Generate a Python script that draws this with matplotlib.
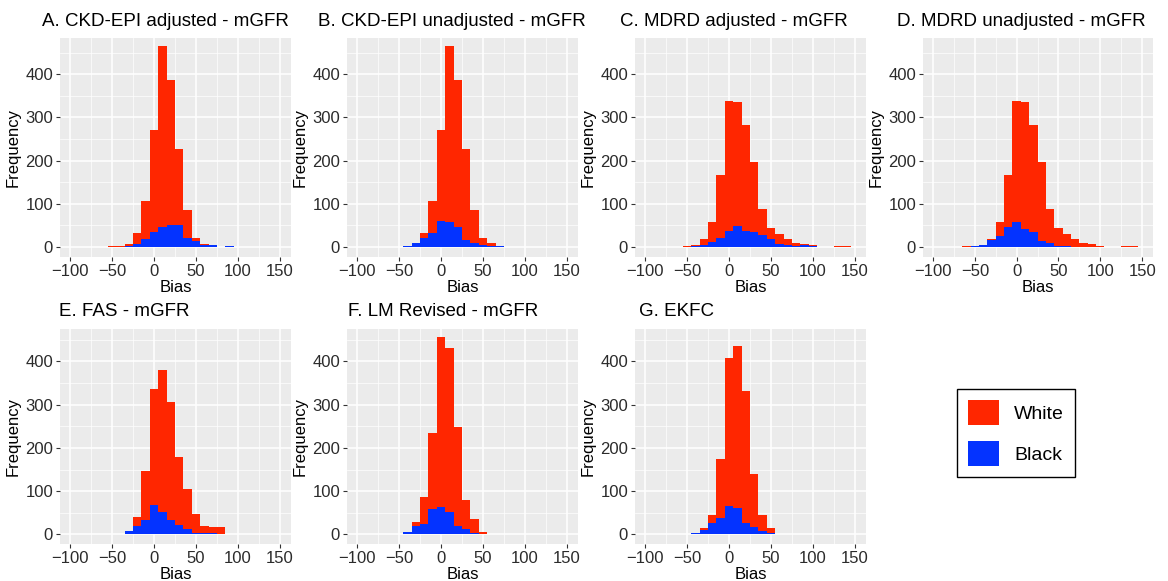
import numpy as np
import matplotlib
matplotlib.use("Agg")
import matplotlib.pyplot as plt
from matplotlib.patches import Patch

plt.rcParams['font.family'] = ['Liberation Sans', 'DejaVu Sans']

# bin centres (binwidth 10)
bins = [-80, -70, -60, -50, -40, -30, -20, -10, 0, 10, 20, 30, 40, 50, 60, 70,
        80, 90, 100, 110, 120, 130, 140]

# frequencies (White / Black) for each panel
a_white = [0, 0, 0, 2, 3, 8, 33, 107, 270, 466, 386, 226, 86, 22, 7, 4, 1, 2, 1, 0, 0, 0, 0]
a_black = [0, 1, 0, 0, 0, 3, 7, 18, 35, 47, 52, 52, 22, 15, 5, 4, 0, 3, 0, 0, 0, 0, 0]
b_white = [0, 0, 0, 1, 2, 10, 33, 107, 270, 466, 386, 226, 86, 22, 10, 3, 1, 0, 1, 0, 0, 0, 0]
b_black = [1, 0, 0, 0, 2, 9, 20, 33, 60, 58, 46, 17, 10, 5, 3, 3, 0, 0, 0, 0, 0, 0, 0]
c_white = [0, 0, 1, 2, 5, 18, 58, 167, 338, 336, 283, 196, 88, 43, 30, 19, 10, 7, 4, 0, 0, 2, 2]
c_black = [0, 1, 0, 0, 2, 5, 12, 22, 37, 48, 38, 35, 27, 18, 8, 5, 3, 4, 3, 0, 1, 0, 0]
d_white = [0, 0, 2, 3, 5, 18, 58, 167, 338, 336, 283, 196, 88, 43, 30, 19, 10, 7, 3, 0, 0, 2, 2]
d_black = [1, 0, 0, 3, 4, 16, 26, 47, 57, 42, 34, 13, 10, 2, 2, 0, 0, 0, 0, 0, 0, 0, 1]
e_white = [0, 0, 0, 2, 2, 8, 41, 146, 337, 381, 306, 180, 106, 48, 20, 17, 17, 1, 1, 0, 2, 0, 1]
e_black = [0, 1, 0, 0, 2, 8, 20, 33, 67, 53, 33, 22, 13, 4, 3, 3, 0, 0, 0, 0, 2, 0, 0]
f_white = [0, 0, 0, 2, 5, 28, 86, 235, 457, 430, 249, 80, 36, 6, 2, 2, 0, 2, 0, 0, 0, 0, 0]
f_black = [1, 0, 0, 1, 5, 20, 25, 58, 64, 52, 20, 12, 3, 2, 2, 0, 0, 0, 0, 0, 0, 0, 0]
g_white = [0, 0, 0, 2, 3, 15, 46, 175, 407, 436, 331, 140, 45, 14, 2, 0, 2, 0, 0, 0, 0, 0, 0]
g_black = [1, 0, 0, 0, 3, 10, 27, 38, 65, 62, 27, 18, 9, 3, 2, 0, 0, 0, 0, 0, 0, 0, 0]

titles = ["A. CKD-EPI adjusted - mGFR", "B. CKD-EPI unadjusted - mGFR",
          "C. MDRD adjusted - mGFR", "D. MDRD unadjusted - mGFR",
          "E. FAS - mGFR", "F. LM Revised - mGFR", "G. EKFC"]
whites = [a_white, b_white, c_white, d_white, e_white, f_white, g_white]
blacks = [a_black, b_black, c_black, d_black, e_black, f_black, g_black]

RED = '#FF2600'
BLUE = '#0433FF'

W, H = 1168, 581
fig = plt.figure(figsize=(W / 100, H / 100), dpi=100)

# panel boxes in pixels: left, right, top, bottom ; title x start
panels = [(60, 291, 38, 257, 42), (347, 578, 38, 257, 318),
          (635, 866, 38, 257, 620), (923, 1153, 38, 257, 897),
          (60, 291, 329, 544, 59), (347, 578, 329, 544, 348),
          (635, 866, 329, 544, 639)]

for i, (l, r, t, b, tx) in enumerate(panels):
    ax = fig.add_axes([l / W, 1 - b / H, (r - l) / W, (b - t) / H])
    ax.set_facecolor('#EBEBEB')
    ax.bar(bins, whites[i], width=10, color=RED, linewidth=0, zorder=2)
    ax.bar(bins, blacks[i], width=10, color=BLUE, linewidth=0, zorder=3)

    ax.set_xlim(-112, 163)
    if i < 4:
        ax.set_ylim(-23, 484)
    else:
        ax.set_ylim(-22, 475)
    ax.set_xticks([-100, -50, 0, 50, 100, 150])
    ax.set_xticks([-75, -25, 25, 75, 125], minor=True)
    ax.set_yticks([0, 100, 200, 300, 400])
    ax.set_yticks([50, 150, 250, 350, 450], minor=True)
    ax.grid(which='major', color='white', linewidth=1.1, zorder=0)
    ax.grid(which='minor', color='white', linewidth=0.5, zorder=0)
    ax.set_axisbelow(True)
    for s in ax.spines.values():
        s.set_visible(False)
    ax.tick_params(which='major', length=3, width=0.8, color='#333333',
                   labelsize=12, labelcolor='#2b2b2b', pad=2)
    ax.tick_params(which='minor', length=0)
    ax.set_xlabel('Bias', fontsize=12, labelpad=1)
    ax.set_ylabel('Frequency', fontsize=12, labelpad=3)

    fig.text(tx / W, 1 - (t - 17) / H, titles[i], fontsize=13.5,
             ha='left', va='center')

handles = [Patch(facecolor=RED, edgecolor='none'),
           Patch(facecolor=BLUE, edgecolor='none')]
leg = fig.legend(handles, ['White', 'Black'], loc='center',
                 bbox_to_anchor=(1016 / W, 1 - 433 / H), fontsize=14,
                 handlelength=1.6, handleheight=1.6, labelspacing=0.85,
                 handletextpad=0.8, borderpad=0.55, borderaxespad=0,
                 fancybox=False, edgecolor='black', framealpha=1)
leg.get_frame().set_linewidth(1.0)

fig.savefig('out.png', dpi=100)
